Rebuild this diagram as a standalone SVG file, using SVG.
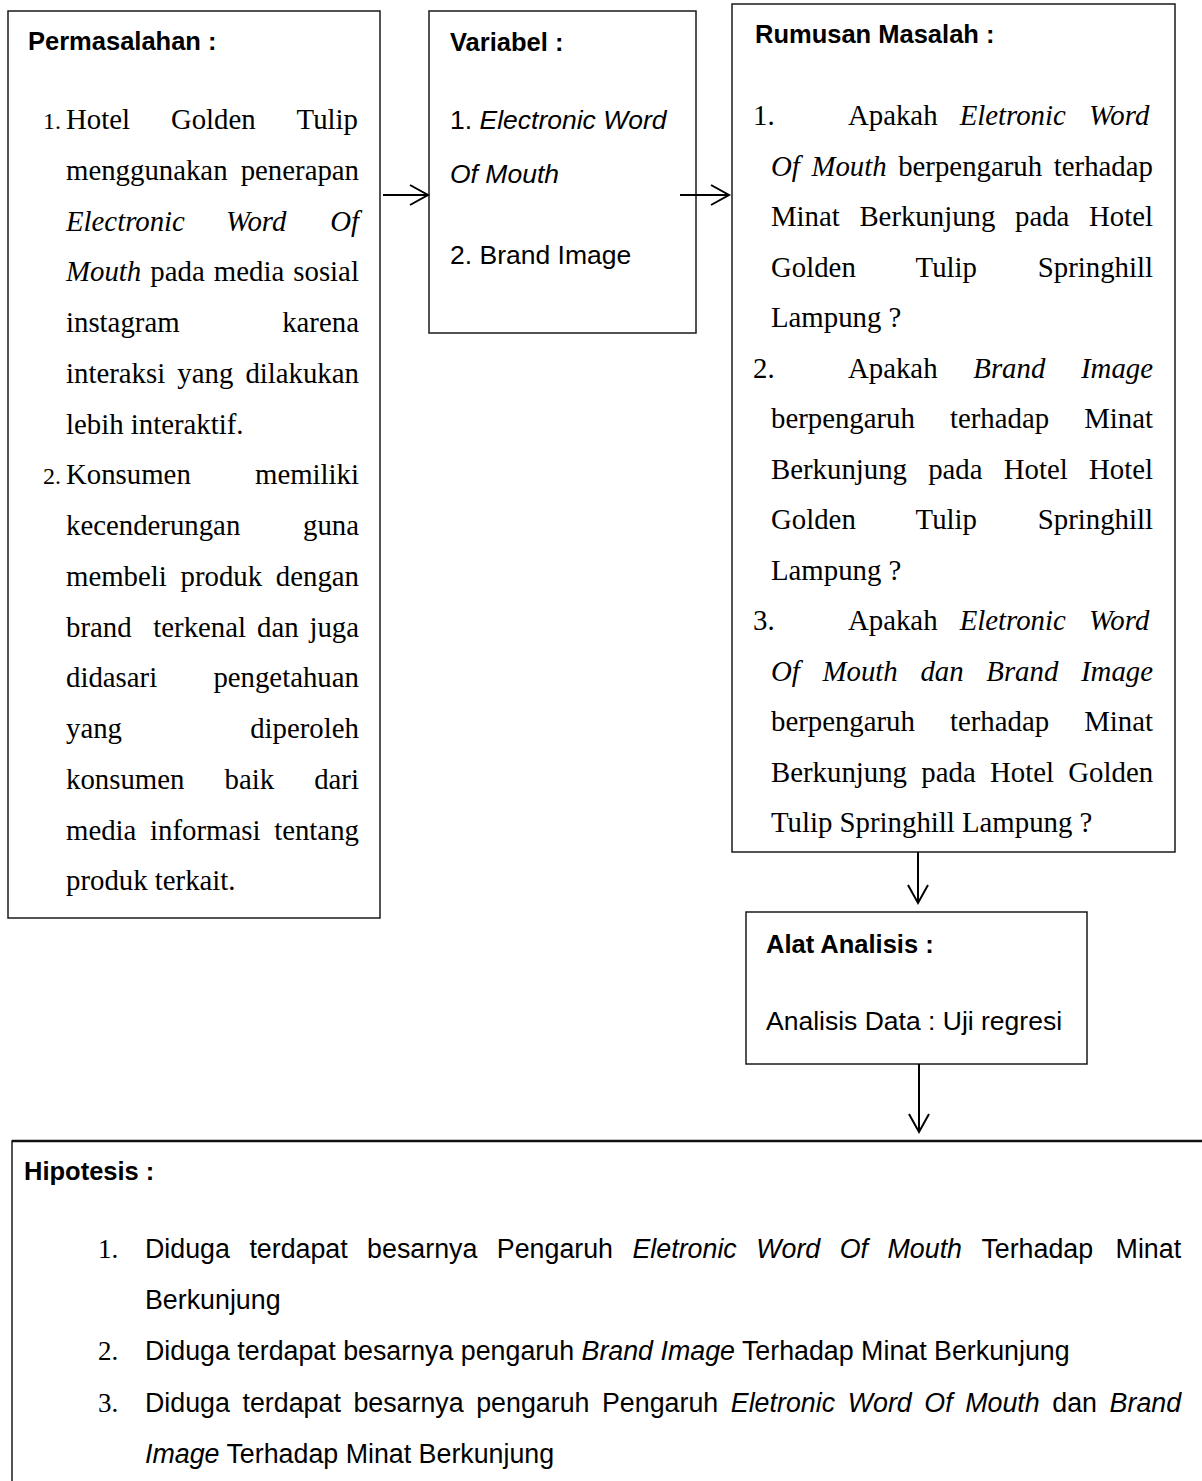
<svg xmlns="http://www.w3.org/2000/svg" width="1202" height="1481" viewBox="0 0 1202 1481">
<style>
.box{fill:#fff;stroke:#1a1a1a;stroke-width:1.5}
.t{font-family:"Liberation Serif","Times New Roman",serif;font-size:28.8px;fill:#000}
.s{font-family:"Liberation Sans",Arial,sans-serif;font-size:26.5px;fill:#000}
.hb{font-family:"Liberation Sans",Arial,sans-serif;font-size:25.5px;font-weight:bold;fill:#000}
.i{font-style:italic}
.n{font-size:24px}
.hn{font-family:"Liberation Serif","Times New Roman",serif;font-size:27px}
.hs{font-size:26.8px}
.conn{stroke:#000;stroke-width:2;fill:none}
</style>
<defs>
<marker id="arr" markerUnits="userSpaceOnUse" markerWidth="24" markerHeight="26" viewBox="0 0 24 26" refX="21" refY="13" orient="auto">
<path d="M3,3 L21,13 L3,23" fill="none" stroke="#000" stroke-width="2"/>
</marker>
</defs>

<g id="permasalahan">
<rect class="box" x="8" y="11" width="372" height="907"/>
<text class="hb" x="28" y="50">Permasalahan :</text>
<text class="t" y="129"><tspan class="n" x="43">1.</tspan><tspan x="66">Hotel</tspan><tspan x="170.9">Golden</tspan><tspan x="296.6">Tulip</tspan></text>
<text class="t" y="179.75"><tspan x="66">menggunakan</tspan><tspan x="240.7">penerapan</tspan></text>
<text class="t i" y="230.5"><tspan x="66">Electronic</tspan><tspan x="226.1">Word</tspan><tspan x="330.2">Of</tspan></text>
<text class="t" y="281.25"><tspan class="i" x="66">Mouth</tspan><tspan x="150.3">pada</tspan><tspan x="213.8">media</tspan><tspan x="293.3">sosial</tspan></text>
<text class="t" y="332"><tspan x="66">instagram</tspan><tspan x="282.2">karena</tspan></text>
<text class="t" y="382.75"><tspan x="66">interaksi</tspan><tspan x="177.3">yang</tspan><tspan x="245.4">dilakukan</tspan></text>
<text class="t" x="66" y="433.5">lebih interaktif.</text>
<text class="t" y="484.25"><tspan class="n" x="43">2.</tspan><tspan x="66">Konsumen</tspan><tspan x="255">memiliki</tspan></text>
<text class="t" y="535"><tspan x="66">kecenderungan</tspan><tspan x="303">guna</tspan></text>
<text class="t" y="585.75"><tspan x="66">membeli</tspan><tspan x="180.5">produk</tspan><tspan x="275.8">dengan</tspan></text>
<text class="t" y="636.5"><tspan x="66">brand</tspan><tspan x="153.3">terkenal</tspan><tspan x="257">dan</tspan><tspan x="309.4">juga</tspan></text>
<text class="t" y="687.25"><tspan x="66">didasari</tspan><tspan x="213.4">pengetahuan</tspan></text>
<text class="t" y="738"><tspan x="66">yang</tspan><tspan x="250.2">diperoleh</tspan></text>
<text class="t" y="788.75"><tspan x="66">konsumen</tspan><tspan x="224.5">baik</tspan><tspan x="314.2">dari</tspan></text>
<text class="t" y="839.5"><tspan x="66">media</tspan><tspan x="150.1">informasi</tspan><tspan x="274.2">tentang</tspan></text>
<text class="t" x="66" y="890.25">produk terkait.</text>
</g>

<g id="variabel">
<rect class="box" x="429" y="11" width="267" height="322"/>
<text class="hb" x="450" y="51">Variabel :</text>
<text class="s" x="450" y="129">1. <tspan class="i">Electronic Word</tspan></text>
<text class="s i" x="450" y="183">Of Mouth</text>
<text class="s" x="450" y="264">2. Brand Image</text>
</g>

<g id="rumusan">
<rect class="box" x="732" y="4" width="443" height="848"/>
<text class="hb" x="755" y="43">Rumusan Masalah :</text>
<text class="t" y="125"><tspan x="753">1.</tspan><tspan x="848">Apakah</tspan><tspan class="i" x="959.7">Eletronic</tspan><tspan class="i" x="1089">Word</tspan></text>
<text class="t" y="175.5"><tspan class="i" x="771">Of</tspan><tspan class="i" x="811.4">Mouth</tspan><tspan x="898.2">berpengaruh</tspan><tspan x="1053.8">terhadap</tspan></text>
<text class="t" y="226"><tspan x="771">Minat</tspan><tspan x="859.4">Berkunjung</tspan><tspan x="1015">pada</tspan><tspan x="1089">Hotel</tspan></text>
<text class="t" y="276.5"><tspan x="771">Golden</tspan><tspan x="915.6">Tulip</tspan><tspan x="1037.8">Springhill</tspan></text>
<text class="t" x="771" y="327">Lampung ?</text>
<text class="t" y="377.5"><tspan x="753">2.</tspan><tspan x="848">Apakah</tspan><tspan class="i" x="973.3">Brand</tspan><tspan class="i" x="1081">Image</tspan></text>
<text class="t" y="428"><tspan x="771">berpengaruh</tspan><tspan x="949.95">terhadap</tspan><tspan x="1084.2">Minat</tspan></text>
<text class="t" y="478.5"><tspan x="771">Berkunjung</tspan><tspan x="928.2">pada</tspan><tspan x="1003.8">Hotel</tspan><tspan x="1089">Hotel</tspan></text>
<text class="t" y="529"><tspan x="771">Golden</tspan><tspan x="915.6">Tulip</tspan><tspan x="1037.8">Springhill</tspan></text>
<text class="t" x="771" y="579.5">Lampung ?</text>
<text class="t" y="630"><tspan x="753">3.</tspan><tspan x="848">Apakah</tspan><tspan class="i" x="959.7">Eletronic</tspan><tspan class="i" x="1089">Word</tspan></text>
<text class="t i" y="680.5"><tspan x="771">Of</tspan><tspan x="822.5">Mouth</tspan><tspan x="920.4">dan</tspan><tspan x="986.3">Brand</tspan><tspan x="1081">Image</tspan></text>
<text class="t" y="731"><tspan x="771">berpengaruh</tspan><tspan x="949.95">terhadap</tspan><tspan x="1084.2">Minat</tspan></text>
<text class="t" y="781.5"><tspan x="771">Berkunjung</tspan><tspan x="921.3">pada</tspan><tspan x="990">Hotel</tspan><tspan x="1068.3">Golden</tspan></text>
<text class="t" x="771" y="832">Tulip Springhill Lampung ?</text>
</g>

<g id="alat-analisis">
<rect class="box" x="746" y="912" width="341" height="152"/>
<text class="hb" x="766" y="953">Alat Analisis :</text>
<text class="s" x="766" y="1030">Analisis Data : Uji regresi</text>
</g>

<g id="hipotesis">
<rect class="box" x="12" y="1141" width="1300" height="400"/>
<line x1="12" y1="1141" x2="1202" y2="1141" stroke="#111" stroke-width="2.5"/>
<text class="hb" x="24" y="1180">Hipotesis :</text>
<text class="s hs" y="1258"><tspan class="hn" x="98">1.</tspan><tspan x="145">Diduga</tspan><tspan x="249.4">terdapat</tspan><tspan x="367.1">besarnya</tspan><tspan x="496.8">Pengaruh</tspan><tspan class="i" x="632.5">Eletronic</tspan><tspan class="i" x="756.2">Word</tspan><tspan class="i" x="839.7">Of</tspan><tspan class="i" x="887.5">Mouth</tspan><tspan x="981.4">Terhadap</tspan><tspan x="1115.6">Minat</tspan></text>
<text class="s hs" x="145" y="1309">Berkunjung</text>
<text class="s hs" y="1360"><tspan class="hn" x="98">2.</tspan><tspan x="145">Diduga terdapat besarnya pengaruh </tspan><tspan class="i">Brand Image</tspan> Terhadap Minat Berkunjung</text>
<text class="s hs" y="1412"><tspan class="hn" x="98">3.</tspan><tspan x="145">Diduga</tspan><tspan x="242.5">terdapat</tspan><tspan x="353.4">besarnya</tspan><tspan x="476.2">pengaruh</tspan><tspan x="602">Pengaruh</tspan><tspan class="i" x="730.8">Eletronic</tspan><tspan class="i" x="847.7">Word</tspan><tspan class="i" x="924.3">Of</tspan><tspan class="i" x="965.2">Mouth</tspan><tspan x="1052.3">dan</tspan><tspan class="i" x="1109.6">Brand</tspan></text>
<text class="s hs" x="145" y="1463"><tspan class="i">Image</tspan> Terhadap Minat Berkunjung</text>
</g>

<g id="connectors">
<line class="conn" x1="383" y1="195" x2="428" y2="195" marker-end="url(#arr)"/>
<line class="conn" x1="680" y1="195" x2="729" y2="195" marker-end="url(#arr)"/>
<line class="conn" x1="918" y1="852" x2="918" y2="903" marker-end="url(#arr)"/>
<line class="conn" x1="919" y1="1064" x2="919" y2="1132" marker-end="url(#arr)"/>
</g>
</svg>
